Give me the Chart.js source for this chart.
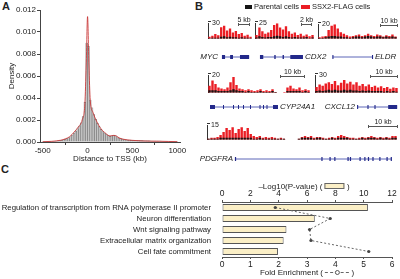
<!DOCTYPE html>
<html>
<head>
<meta charset="utf-8">
<title>SSX2 binding sites</title>
<script src="https://cdn.jsdelivr.net/npm/chart.js@4.4.1/dist/chart.umd.min.js"></script>
<style>
  body { margin: 0; background: #fff; }
  #fig { position: relative; width: 400px; height: 279px; overflow: hidden; font-family: Arial, "Liberation Sans", sans-serif; color: #222; }
  #fig canvas { position: absolute; }
  .t { position: absolute; white-space: nowrap; font-size: 8px; line-height: 10px; }
  .small { font-size: 7px; }
  .leg { font-size: 7.5px; }
  .panel { position: absolute; font-weight: bold; font-size: 11px; line-height: 11px; }
  .gene { font-style: italic; }
  .sbar { position: absolute; height: 3px; border-left: 1px solid #555; border-right: 1px solid #555; box-sizing: border-box; }
  .sbar::after { content: ''; position: absolute; left: 0; right: 0; top: 1px; border-top: 1px solid #555; }
  .key { position: absolute; height: 4px; }
</style>
</head>
<body>
<div id="fig">
  <div class="panel" style="left:2px;top:1px">A</div>
  <div class="panel" style="left:195px;top:1px">B</div>
  <div class="panel" style="left:1px;top:164px">C</div>
</div>
<script>
// ---- panel A: histogram of peak distance to TSS ----
const histStart = -500;      // kb, left edge of first bin
const histBinWidth = 20;     // kb
const histDensityE3 = [      // density x 1e-3
  0.02, 0.02, 0.03, 0.03, 0.04, 0.05, 0.06, 0.08, 0.10, 0.12,
  0.15, 0.19, 0.24, 0.30, 0.38, 0.48, 0.62, 0.80, 1.00, 1.20,
  1.45, 1.75, 2.30, 3.60, 9.00, 8.70, 3.80, 3.10, 2.50, 2.05,
  1.70, 1.40, 1.15, 0.95, 0.80, 0.68, 0.58, 0.52, 0.55, 0.60,
  0.56, 0.46, 0.36, 0.30, 0.26, 0.22, 0.20, 0.18, 0.17, 0.16,
  0.15, 0.14, 0.14, 0.13, 0.12, 0.12, 0.11, 0.11, 0.10, 0.10,
  0.09, 0.09, 0.09, 0.08, 0.08, 0.08, 0.07, 0.07, 0.07, 0.06,
  0.06, 0.05, 0.05, 0.04, 0.03
];
const kdeX = [-500, -400, -300, -250, -200, -150, -100, -60, -30, -15, 0, 15, 30, 60, 100, 150, 200, 250, 290, 320, 350, 400, 500, 600, 700, 800, 900, 1000];
const kdeE3 = [0.02, 0.06, 0.16, 0.28, 0.48, 0.90, 1.40, 2.00, 3.50, 7.00, 11.40, 7.00, 3.80, 2.70, 1.90, 1.20, 0.80, 0.55, 0.60, 0.55, 0.38, 0.25, 0.15, 0.10, 0.08, 0.07, 0.05, 0.03];
const histXTicks = [-500, 0, 500, 1000];
const histYTicks = [0, 0.002, 0.004, 0.006, 0.008, 0.010, 0.012];

// ---- panel B: signal tracks (red = SSX2-FLAG, black = parental) ----
const trackMax = [30, 25, 20, 20, 30, 15];
const trackWindowKb = [18.3, 10.7, 43.9, 40.8, 29.6, 63.3];
const trackScaleKb = [5, 2, 10, 10, 10, 10];
const red1 = [4, 6, 9, 7, 22, 25, 16, 20, 12, 15, 9, 11, 6, 8, 4];
const black1 = [1, 2, 2, 2, 4, 5, 3, 4, 3, 3, 2, 3, 2, 2, 1];
const red2 = [6, 18, 12, 8, 10, 14, 22, 25, 18, 15, 20, 12, 8, 10, 6, 8, 5, 7, 4, 6];
const black2 = [2, 4, 3, 2, 3, 3, 4, 5, 4, 3, 4, 3, 2, 3, 2, 2, 2, 3, 1, 2];
const red3 = [2, 3, 4, 12, 18, 20, 14, 9, 7, 5, 3, 4, 5, 6, 4, 5, 7, 5, 4, 6, 5, 3, 5, 4, 6, 3];
const black3 = [1, 1, 2, 3, 4, 4, 3, 3, 2, 2, 1, 2, 3, 3, 2, 3, 4, 3, 2, 3, 3, 2, 3, 2, 3, 2];
const red4 = [8, 14, 10, 6, 5, 4, 6, 12, 18, 9, 5, 4, 3, 4, 3, 2, 3, 4, 2, 3, 2, 4, 1, 0, 0, 1, 6, 8, 5, 4, 6, 3, 4, 3];
const black4 = [3, 3, 3, 2, 2, 2, 2, 3, 4, 3, 2, 2, 1, 2, 1, 1, 1, 2, 1, 1, 1, 2, 1, 0, 0, 0, 2, 2, 2, 2, 2, 1, 2, 1];
const red5 = [10, 14, 12, 16, 18, 15, 20, 13, 17, 22, 16, 19, 14, 18, 12, 15, 11, 14, 10, 12, 9, 11, 8, 10, 7, 9, 8];
const black5 = [3, 4, 3, 4, 5, 4, 5, 4, 4, 5, 4, 5, 4, 4, 3, 4, 3, 4, 3, 3, 3, 3, 2, 3, 2, 3, 2];
const red6 = [1, 2, 2, 3, 5, 8, 12, 10, 13, 7, 11, 13, 9, 12, 6, 4, 3, 4, 2, 3, 2, 3, 2, 1, 2, 1, 0, 0, 0, 0, 1,
  3, 4, 3, 4, 2, 3, 3, 2, 1, 2, 3, 2, 4, 5, 4, 3, 2, 2, 1, 2, 3, 2, 3, 4, 3, 2, 3, 2, 3, 2, 4, 4];
const black6 = [1, 1, 1, 1, 2, 2, 2, 2, 2, 2, 2, 2, 2, 2, 2, 1, 1, 2, 1, 1, 1, 1, 1, 1, 1, 1, 0, 0, 0, 0, 1,
  2, 2, 2, 2, 1, 2, 2, 1, 1, 1, 2, 1, 2, 2, 2, 2, 1, 1, 1, 1, 2, 1, 2, 2, 2, 1, 2, 1, 2, 1, 2, 2];

// gene models, kb from the left edge of each track window
const geneNames = ['MYC', 'CDX2', 'ELDR', 'CYP24A1', 'CXCL12', 'PDGFRA'];
const geneSpan = [[5.8, 17.1], [0.9, 8.7], [8.0, 30.6], [0.8, 28.0], [15.0, 29.3], [9.3, 61.6]];
const geneExons = [
  [[5.8, 7.1], [9.2, 10.4], [13.3, 17.1]],
  [[0.9, 1.5], [3.5, 3.75], [5.0, 5.25], [6.4, 8.7]],
  [[8.0, 8.6], [30.0, 30.6]],
  [[0.8, 2.8], [6.0, 6.4], [10.0, 10.4], [12.0, 12.4], [14.0, 14.4], [16.8, 17.2], [20.6, 21.0], [22.0, 22.4], [23.4, 23.8], [26.0, 28.0]],
  [[15.0, 15.4], [18.7, 19.1], [21.2, 21.6], [26.1, 29.3]],
  [[9.3, 9.7], [38.1, 38.5], [40.8, 41.2], [42.4, 42.8], [46.8, 47.2], [47.6, 48.0], [50.8, 51.2], [52.4, 52.8], [53.6, 54.0], [55.1, 55.5], [57.4, 57.8], [59.8, 60.2], [61.2, 61.6]]
];

// ---- panel C: GO enrichment ----
const goTerms = ['Regulation of transcription from RNA polymerase II promoter', 'Neuron differentiation', 'Wnt signaling pathway', 'Extracellular matrix organization', 'Cell fate commitment'];
const negLog10P = [10.3, 6.55, 4.55, 4.35, 3.95];
const foldEnrichment = [1.88, 3.82, 3.09, 3.14, 5.18];

Chart.defaults.font.family = 'Arial, "Liberation Sans", sans-serif';
Chart.defaults.font.size = 8;
Chart.defaults.color = '#222';
Chart.defaults.animation = false;
Chart.defaults.responsive = false;
Chart.defaults.events = [];
Chart.defaults.plugins.legend.display = false;
Chart.defaults.plugins.tooltip.enabled = false;

const fig = document.getElementById('fig');

function addCanvas(x, y, w, h) {
  const c = document.createElement('canvas');
  c.width = w; c.height = h;
  c.style.left = x + 'px'; c.style.top = y + 'px';
  c.style.width = w + 'px'; c.style.height = h + 'px';
  fig.appendChild(c);
  return c;
}

function addText(html, x, y, align, cls) {
  const d = document.createElement('div');
  d.className = 't' + (cls ? ' ' + cls : '');
  d.innerHTML = html;
  d.style.left = x + 'px';
  d.style.top = (y - 5) + 'px';
  if (align === 'right') d.style.transform = 'translateX(-100%)';
  if (align === 'center') d.style.transform = 'translateX(-50%)';
  fig.appendChild(d);
  return d;
}

function addBox(cls, x, y, w, h, color) {
  const d = document.createElement('div');
  d.className = cls;
  d.style.left = x + 'px'; d.style.top = y + 'px'; d.style.width = w + 'px';
  if (h) d.style.height = h + 'px';
  if (color) d.style.background = color;
  fig.appendChild(d);
  return d;
}

// ================= A =================
const histBars = histDensityE3.map((v, i) => ({ x: histStart + histBinWidth * (i + 0.5), y: v / 1000 }));
const kdeLine = kdeX.map((x, i) => ({ x: x, y: kdeE3[i] / 1000 }));

new Chart(addCanvas(0, 0, 190, 165), {
  type: 'bar',
  data: {
    datasets: [
      { type: 'line', data: kdeLine, borderColor: 'rgba(200,50,50,0.85)', borderWidth: 1, pointRadius: 0, cubicInterpolationMode: 'monotone', order: 0 },
      { type: 'bar', data: histBars, backgroundColor: '#c4c4c4', borderColor: '#6a6a6a', borderWidth: 0.5, barPercentage: 1, categoryPercentage: 1, order: 1 }
    ]
  },
  options: {
    layout: { padding: { top: 10, right: 10, left: 0, bottom: 0 } },
    scales: {
      x: {
        type: 'linear', min: -530, max: 1030, offset: false,
        afterBuildTicks: s => { s.ticks = histXTicks.map(v => ({ value: v })); },
        afterFit: s => { s.height = 23; },
        grid: { drawOnChartArea: false, tickLength: 3, color: '#444' },
        border: { color: '#444' },
        ticks: { padding: 1, maxRotation: 0, callback: v => String(v) },
        title: { display: true, text: 'Distance to TSS (kb)', padding: { top: 0, bottom: 1.2 } }
      },
      y: {
        min: 0, max: 0.012,
        afterBuildTicks: s => { s.ticks = histYTicks.map(v => ({ value: v })); },
        afterFit: s => { s.width = 40; },
        grid: { drawOnChartArea: false, tickLength: 3, color: '#444' },
        border: { color: '#444' },
        ticks: { padding: 1, callback: v => v.toFixed(3) },
        title: { display: true, text: 'Density', padding: { top: 6.5, bottom: 0 } }
      }
    }
  }
});

// ================= B =================
const trackBox = [
  { axis: 208, right: 252, top: 21, base: 47, row: 57 },
  { axis: 255, right: 314, top: 21, base: 47, row: 57 },
  { axis: 318, right: 397, top: 22, base: 47, row: 57 },
  { axis: 208, right: 310, top: 73, base: 101, row: 107 },
  { axis: 315, right: 398, top: 73, base: 101, row: 107 },
  { axis: 207, right: 397, top: 123, base: 148, row: 159 }
];
const scaleBarRight = [250, 312, 398, 305, 398, 398];
const geneLabelPos = [[218, 'right'], [305, 'left'], [375, 'left'], [280, 'left'], [355, 'right'], [233, 'right']];
const reds = [red1, red2, red3, red4, red5, red6];
const blacks = [black1, black2, black3, black4, black5, black6];

trackBox.forEach((b, k) => {
  const w = b.right - b.axis + 1;
  const h = b.base - b.top + 6;
  const max = trackMax[k];
  new Chart(addCanvas(b.axis - 1, b.top - 6, w, h), {
    type: 'bar',
    data: {
      labels: reds[k].map((_, i) => i),
      datasets: [
        { data: blacks[k], backgroundColor: '#151515', grouped: false, order: 0, barPercentage: 0.8, categoryPercentage: 1 },
        { data: reds[k], backgroundColor: '#ea1d24', grouped: false, order: 1, barPercentage: 0.8, categoryPercentage: 1 }
      ]
    },
    options: {
      layout: { padding: { left: 1, top: 6, right: 0, bottom: 0 } },
      scales: {
        x: { display: false },
        y: {
          min: 0, max: max,
          afterBuildTicks: s => { s.ticks = [{ value: max }]; },
          afterFit: s => { s.width = 0; },
          grid: { display: false },
          border: { display: true, color: '#333' },
          ticks: { mirror: true, padding: 4, font: { size: 7 } }
        }
      }
    }
  });
  // little tick at the top of the track axis
  addBox('key', b.axis, b.top, 3, 1, '#333');

  // scale bar
  const barW = Math.round(trackScaleKb[k] / trackWindowKb[k] * (b.right - b.axis));
  const bx = scaleBarRight[k] - barW;
  addBox('sbar', bx, b.top + 2, barW);
  addText(trackScaleKb[k] + ' kb', bx + barW / 2, b.top - 1, 'center', 'small');

  // gene model
  const exonData = geneExons[k].flatMap(([s, e]) => [{ x: s, y: 0 }, { x: e, y: 0 }, { x: e, y: null }]);
  new Chart(addCanvas(b.axis - 1, b.row - 4, w, 8), {
    type: 'scatter',
    data: {
      datasets: [
        { data: exonData, showLine: true, spanGaps: false, borderColor: '#23298a', borderWidth: 4, pointRadius: 0, order: 0 },
        { data: geneSpan[k].map(x => ({ x: x, y: 0 })), showLine: true, borderColor: '#5c66b8', borderWidth: 1, pointRadius: 0, order: 1 }
      ]
    },
    options: {
      layout: { padding: { left: 1, top: 0, right: 0, bottom: 0 } },
      scales: {
        x: { display: false, min: 0, max: trackWindowKb[k] },
        y: { display: false, min: -1, max: 1 }
      }
    }
  });
  addText(geneNames[k], geneLabelPos[k][0], b.row, geneLabelPos[k][1], 'gene');
});

// legend for B
addBox('key', 245, 5, 7, 4, '#151515');
addText('Parental cells', 254, 7, 'left', 'leg');
addBox('key', 301, 5, 9, 4, '#ea1d24');
addText('SSX2-FLAG cells', 312, 7, 'left', 'leg');

// ================= C =================
new Chart(addCanvas(0, 175, 400, 104), {
  type: 'bar',
  data: {
    labels: goTerms,
    datasets: [
      { type: 'line', indexAxis: 'y', data: foldEnrichment, xAxisID: 'x2', borderColor: '#666', borderDash: [2, 2], borderWidth: 1,
        pointRadius: 1.6, pointBackgroundColor: '#444', pointBorderWidth: 0, order: 0 },
      { type: 'bar', data: negLog10P, xAxisID: 'x', backgroundColor: '#fbefc6', borderColor: '#555', borderWidth: 1,
        borderSkipped: false, barPercentage: 0.64, categoryPercentage: 1, order: 1 }
    ]
  },
  options: {
    indexAxis: 'y',
    layout: { padding: { left: 0, top: 0, right: 8, bottom: 0 } },
    scales: {
      x: {
        position: 'top', min: 0, max: 12,
        ticks: { stepSize: 2, padding: 1, font: { size: 8.5 } },
        afterFit: s => { s.height = 27; },
        grid: { drawOnChartArea: false, tickLength: 2, color: '#555' },
        border: { color: '#555' }
      },
      x2: {
        type: 'linear', position: 'bottom', min: 0, max: 6,
        ticks: { stepSize: 1, padding: 1, font: { size: 8.5 } },
        afterFit: s => { s.height = 22; },
        grid: { drawOnChartArea: false, tickLength: 2, color: '#555' },
        border: { color: '#555' }
      },
      y: {
        afterFit: s => { s.width = 222; },
        grid: { display: false },
        border: { display: false },
        ticks: { padding: 3, autoSkip: false, font: { size: 7.8 } }
      }
    }
  }
});

addText('–Log10(P-value) ( <span style="display:inline-block;width:18px;height:4px;border:1px solid #666;background:#fbefc6;vertical-align:middle"></span> )', 304, 186.5, 'center');
addText('Fold Enrichment ( <span style="display:inline-block;width:24px;height:0;border-top:1px dashed #666;position:relative;vertical-align:middle"><span style="position:absolute;left:10px;top:-3px;width:5px;height:5px;border-radius:50%;background:#fff;border:1px solid #555;box-sizing:border-box"></span></span> )', 307, 273, 'center');
</script>
</body>
</html>
